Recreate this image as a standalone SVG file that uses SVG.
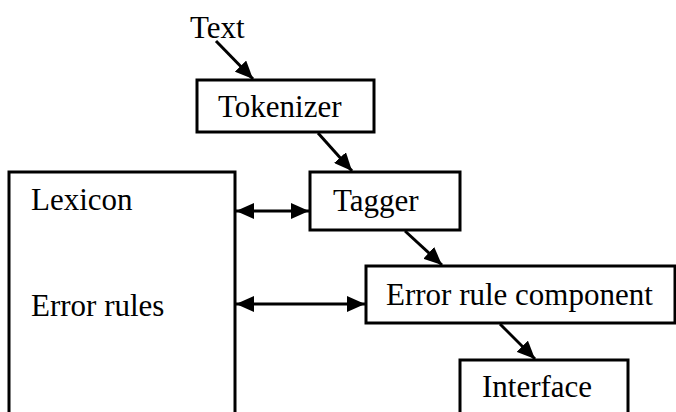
<svg xmlns="http://www.w3.org/2000/svg" width="676" height="412" viewBox="0 0 676 412">
<defs>
<style>
.box{fill:#fff;stroke:#000;stroke-width:3}
.t{font-family:"Liberation Serif","Times New Roman",serif;font-size:31px;fill:#000}
.c{stroke:#000;stroke-width:3;fill:none}
</style>
<marker id="ah" viewBox="0 0 18 16" refX="18" refY="8" markerWidth="18" markerHeight="16" markerUnits="userSpaceOnUse" orient="auto-start-reverse">
<path d="M0,0 L18,8 L0,16 Z" fill="#000"/>
</marker>
</defs>
<g id="text-label"><text class="t" x="190" y="38">Text</text></g>
<g id="tokenizer"><rect class="box" x="197" y="80" width="177" height="52"/><text class="t" x="218" y="117">Tokenizer</text></g>
<g id="lexicon"><rect class="box" x="9" y="172" width="226" height="260"/><text class="t" x="31" y="210">Lexicon</text><text class="t" x="31" y="316">Error rules</text></g>
<g id="tagger"><rect class="box" x="310" y="172" width="150" height="58"/><text class="t" x="333" y="211">Tagger</text></g>
<g id="error-rule-component"><rect class="box" x="366" y="266" width="309" height="57"/><text class="t" x="386" y="305">Error rule component</text></g>
<g id="interface"><rect class="box" x="460" y="360" width="168" height="70"/><text class="t" x="482" y="397">Interface</text></g>
<g id="connectors">
<line class="c" x1="216" y1="41" x2="253" y2="79" marker-end="url(#ah)"/>
<line class="c" x1="318" y1="133" x2="352" y2="171" marker-end="url(#ah)"/>
<line class="c" x1="405" y1="231" x2="442" y2="265" marker-end="url(#ah)"/>
<line class="c" x1="500" y1="324" x2="535" y2="359" marker-end="url(#ah)"/>
<line class="c" x1="236" y1="211" x2="309" y2="211" marker-start="url(#ah)" marker-end="url(#ah)"/>
<line class="c" x1="236" y1="304" x2="365" y2="304" marker-start="url(#ah)" marker-end="url(#ah)"/>
</g>
</svg>
